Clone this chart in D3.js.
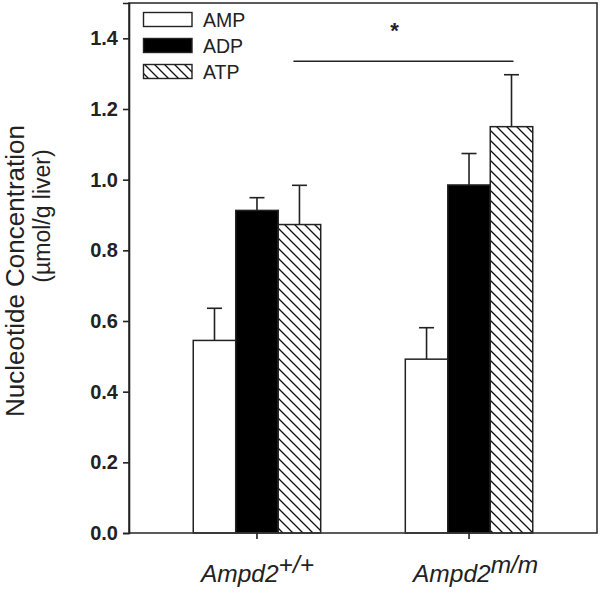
<!DOCTYPE html>
<html><head><meta charset="utf-8">
<script src="https://cdn.jsdelivr.net/npm/d3@7"></script>
<style>body{margin:0;background:#fff}svg{display:block}text{font-family:Arial,"Liberation Sans",Helvetica,sans-serif}</style>
</head><body>
<script>
const groups = ["+/+", "m/m"];
const series = ["AMP", "ADP", "ATP"];
const meanAMP = [0.545, 0.492];
const meanADP = [0.913, 0.985];
const meanATP = [0.873, 1.150];
const errAMP = [0.091, 0.089];
const errADP = [0.036, 0.089];
const errATP = [0.111, 0.147];
const yTicks = [0.0, 0.2, 0.4, 0.6, 0.8, 1.0, 1.2, 1.4];
const sigY = 1.335;

const W = 600, H = 592;
const m = {left: 129, right: 3, top: 3, bottom: 59};
const svg = d3.select("body").append("svg").attr("width", W).attr("height", H);

const defs = svg.append("defs");
const pat = defs.append("pattern").attr("id", "hatch").attr("patternUnits", "userSpaceOnUse")
  .attr("width", 10).attr("height", 10);
pat.append("rect").attr("width", 10).attr("height", 10).attr("fill", "#fff");
pat.append("path").attr("d", "M-1,-1 L11,11 M-6,4 L6,16 M4,-6 L16,6").attr("stroke", "#111").attr("stroke-width", 1.3);

const x0 = d3.scaleBand().domain(groups).range([m.left, W - m.right]).paddingInner(0.399).paddingOuter(0.303);
const x1 = d3.scaleBand().domain(series).range([0, x0.bandwidth()]).padding(0);
const y = d3.scaleLinear().domain([0, 1.5]).range([H - m.bottom, m.top]);

const means = {AMP: meanAMP, ADP: meanADP, ATP: meanATP};
const errs = {AMP: errAMP, ADP: errADP, ATP: errATP};
const fills = {AMP: "#fff", ADP: "#000", ATP: "url(#hatch)"};

const data = [];
groups.forEach((g, gi) => series.forEach(s => data.push({g, s, v: means[s][gi], e: errs[s][gi]})));

// error bars
const eb = svg.append("g").attr("stroke", "#222").attr("stroke-width", 1.6);
data.forEach(d => {
  const cx = x0(d.g) + x1(d.s) + x1.bandwidth() / 2;
  eb.append("line").attr("x1", cx).attr("x2", cx).attr("y1", y(d.v)).attr("y2", y(d.v + d.e));
  eb.append("line").attr("x1", cx - 7.5).attr("x2", cx + 7.5).attr("y1", y(d.v + d.e)).attr("y2", y(d.v + d.e));
});

svg.append("g").selectAll("rect").data(data).join("rect")
  .attr("x", d => x0(d.g) + x1(d.s))
  .attr("width", x1.bandwidth())
  .attr("y", d => y(d.v))
  .attr("height", d => y(0) - y(d.v))
  .attr("fill", d => fills[d.s])
  .attr("stroke", "#222").attr("stroke-width", 1.5);

// frame
svg.append("rect").attr("x", m.left).attr("y", m.top)
  .attr("width", W - m.right - m.left).attr("height", y(0) - m.top)
  .attr("fill", "none").attr("stroke", "#333").attr("stroke-width", 1.6);

// y axis
const ya = svg.append("g").attr("transform", `translate(${m.left},0)`)
  .call(d3.axisLeft(y).tickValues(yTicks).tickFormat(d3.format(".1f")).tickSize(6).tickPadding(5));
ya.select(".domain").attr("stroke", "#222").attr("stroke-width", 1.6);
ya.selectAll(".tick line").attr("stroke", "#222").attr("stroke-width", 1.6);
ya.selectAll(".tick text").attr("font-size", 20).attr("font-weight", "bold").attr("fill", "#222")
  .attr("font-family", "Arial, 'Liberation Sans', sans-serif");

// x axis ticks
const xa = svg.append("g").attr("transform", `translate(0,${y(0)})`)
  .call(d3.axisBottom(x0).tickSize(6).tickFormat(""));
xa.select(".domain").remove();
xa.selectAll(".tick line").attr("stroke", "#222").attr("stroke-width", 1.6);

// x labels
groups.forEach(g => {
  const t = svg.append("text").attr("x", x0(g) + x0.bandwidth() / 2 - 56).attr("y", 582)
    .attr("font-size", 24.5).attr("font-style", "italic").attr("fill", "#222");
  t.append("tspan").text("Ampd2");
  t.append("tspan").attr("dy", -9).text(g);
});

// y title
svg.append("text").attr("transform", `translate(24,271) rotate(-90)`).attr("text-anchor", "middle")
  .attr("font-size", 26).attr("fill", "#222").text("Nucleotide Concentration");
svg.append("text").attr("transform", `translate(50,216) rotate(-90)`).attr("text-anchor", "middle")
  .attr("font-size", 23).attr("fill", "#222").text("(µmol/g liver)");

// legend
const lg = svg.append("g");
series.forEach((s, i) => {
  const cy = 19.5 + i * 26;
  lg.append("rect").attr("x", 143.5).attr("y", cy - 7).attr("width", 48.5).attr("height", 14)
    .attr("fill", fills[s]).attr("stroke", "#222").attr("stroke-width", 1.4);
  lg.append("text").attr("x", 203).attr("y", cy + 7).attr("font-size", 19.5).attr("fill", "#222").text(s);
});

// significance
const a1 = x0(groups[0]) + x1("ATP") + x1.bandwidth() / 2 - 6;
const a2 = x0(groups[1]) + x1("ATP") + x1.bandwidth() / 2 + 2;
svg.append("line").attr("x1", a1).attr("x2", a2).attr("y1", y(sigY)).attr("y2", y(sigY))
  .attr("stroke", "#222").attr("stroke-width", 1.6);
svg.append("text").attr("x", (a1 + a2) / 2 - 9).attr("y", 38).attr("text-anchor", "middle")
  .attr("font-size", 22).attr("font-weight", "bold").attr("fill", "#222").text("*");
</script>
</body></html>
